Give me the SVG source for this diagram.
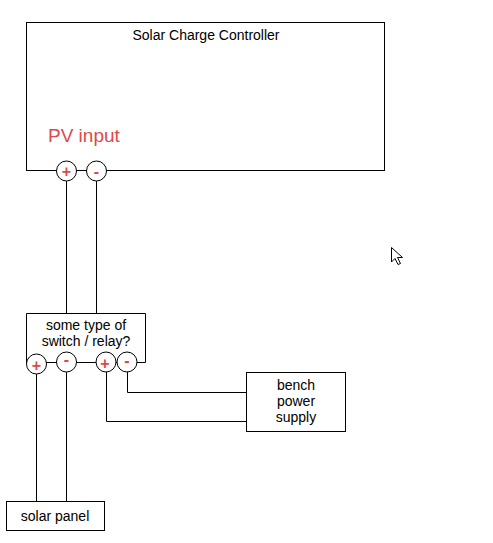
<svg xmlns="http://www.w3.org/2000/svg" width="493" height="543" viewBox="0 0 493 543">
<style>
.box{fill:#fff;stroke:#000;stroke-width:1}
.w{fill:none;stroke:#000;stroke-width:1}
.t{font-family:"Liberation Sans",Arial,sans-serif;font-size:14px;fill:#000;text-anchor:middle}
.pin{fill:#fff;stroke:#000;stroke-width:1}
.s{font-family:"Liberation Sans",Arial,sans-serif;font-size:16px;fill:#e04848;text-anchor:middle;font-weight:bold}
</style>
<rect width="493" height="543" fill="#fff"/>
<g id="connectors">
<path class="w" d="M66.5,171 V313"/>
<path class="w" d="M96.5,171 V313"/>
<path class="w" d="M36.5,363 V501"/>
<path class="w" d="M66.5,363 V501"/>
<path class="w" d="M127.5,363 V392.5 H246"/>
<path class="w" d="M106.5,363 V421.5 H246"/>
</g>
<g id="controller">
<rect class="box" x="26.5" y="22.5" width="358" height="148"/>
<text class="t" x="206" y="40">Solar Charge Controller</text>
<text x="48" y="142" font-family="'Liberation Sans',Arial,sans-serif" font-size="19" fill="#e04848">PV input</text>
<circle class="pin" cx="66.5" cy="171" r="10"/>
<text class="s" x="66.5" y="176.5">+</text>
<circle class="pin" cx="96.5" cy="171" r="10"/>
<text class="s" x="96.5" y="176.5">-</text>
</g>
<g id="switch">
<path class="box" d="M26.5,362.5 V313.5 H145.5 V362.5 Z"/>
<text class="t" x="86" y="330">some type of</text>
<text class="t" x="86" y="346">switch / relay?</text>
<circle class="pin" cx="36.5" cy="364" r="10"/>
<text class="s" x="36.5" y="370.5">+</text>
<circle class="pin" cx="66.5" cy="362" r="10"/>
<text class="s" x="66.5" y="365">-</text>
<circle class="pin" cx="106" cy="362" r="10"/>
<text class="s" x="105" y="368.5">+</text>
<circle class="pin" cx="127" cy="362" r="10"/>
<text class="s" x="127" y="366">-</text>
</g>
<g id="bench">
<rect class="box" x="246.5" y="372.5" width="99" height="59"/>
<text class="t" x="296" y="390">bench</text>
<text class="t" x="296" y="406">power</text>
<text class="t" x="296" y="422">supply</text>
</g>
<g id="panel">
<rect class="box" x="6.5" y="501.5" width="98" height="29"/>
<text class="t" x="55" y="521">solar panel</text>
</g>
<path d="M391.5,247.5 V262 L395,258.5 L398,264.5 L400.5,263.5 L397.5,257.5 L402.5,257.5 Z" fill="#fff" stroke="#000" stroke-width="1"/>
</svg>
